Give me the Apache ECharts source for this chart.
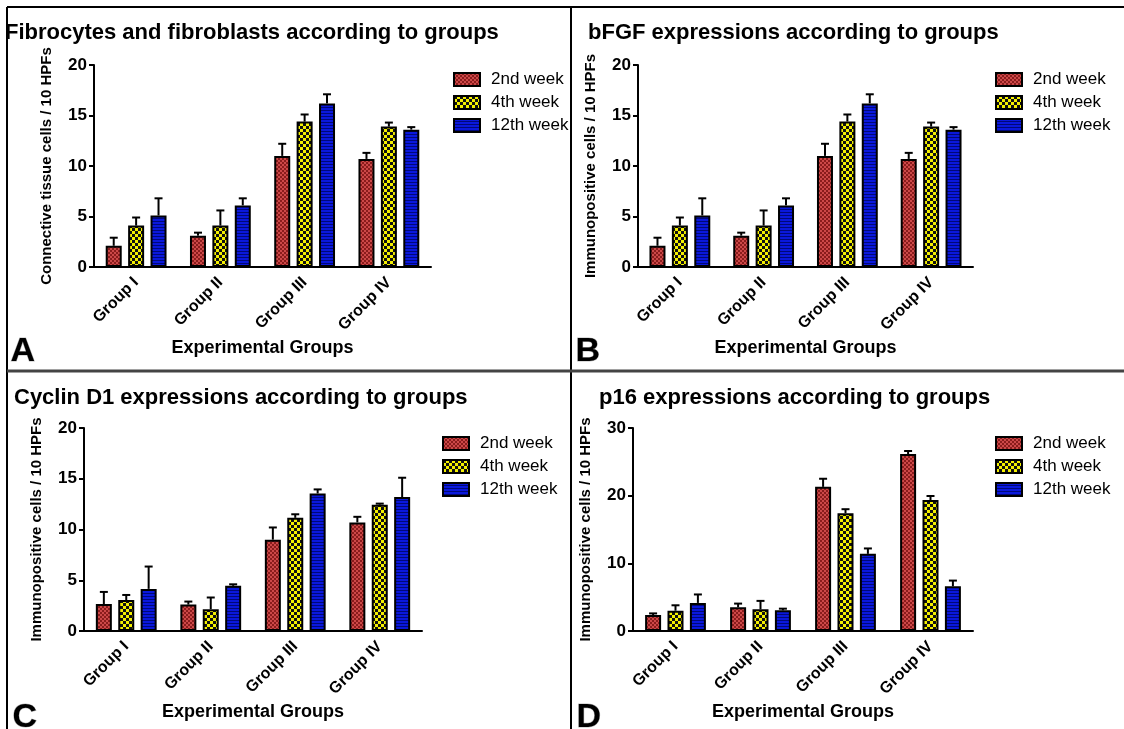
<!DOCTYPE html>
<html>
<head>
<meta charset="utf-8">
<script src="https://cdn.jsdelivr.net/npm/echarts@6/dist/echarts.min.js"></script>
<style>
  html, body { margin: 0; padding: 0; background: #fff; }
  #chart { width: 1124px; height: 729px; }
</style>
</head>
<body>
<div id="chart"></div>
<script>
const groups = ['Group I', 'Group II', 'Group III', 'Group IV']
const weeks = ['2nd week', '4th week', '12th week']
const yTicks = [[0, 20, 5], [0, 20, 5], [0, 20, 5], [0, 30, 10]] // min, max, interval

// A: fibrocytes and fibroblasts (mean, SEM)
const fibro2 = [2.1, 3.1, 11.0, 10.7]
const fibro2Sem = [0.8, 0.3, 1.2, 0.6]
const fibro4 = [4.1, 4.1, 14.4, 13.9]
const fibro4Sem = [0.8, 1.5, 0.7, 0.4]
const fibro12 = [5.1, 6.1, 16.2, 13.6]
const fibro12Sem = [1.7, 0.7, 0.9, 0.25]

// B: bFGF
const bfgf2 = [2.1, 3.1, 11.0, 10.7]
const bfgf2Sem = [0.8, 0.3, 1.2, 0.6]
const bfgf4 = [4.1, 4.1, 14.4, 13.9]
const bfgf4Sem = [0.8, 1.5, 0.7, 0.4]
const bfgf12 = [5.1, 6.1, 16.2, 13.6]
const bfgf12Sem = [1.7, 0.7, 0.9, 0.25]

// C: cyclin D1
const cyc2 = [2.65, 2.6, 9.0, 10.7]
const cyc2Sem = [1.2, 0.3, 1.2, 0.55]
const cyc4 = [3.05, 2.15, 11.15, 12.45]
const cyc4Sem = [0.5, 1.15, 0.35, 0.1]
const cyc12 = [4.15, 4.45, 13.55, 13.2]
const cyc12Sem = [2.2, 0.15, 0.4, 1.9]

// D: p16
const p16w2 = [2.35, 3.5, 21.3, 26.15]
const p16w2Sem = [0.25, 0.55, 1.2, 0.45]
const p16w4 = [3.0, 3.2, 17.4, 19.35]
const p16w4Sem = [0.8, 1.25, 0.6, 0.6]
const p16w12 = [4.15, 3.05, 11.4, 6.6]
const p16w12Sem = [1.25, 0.25, 0.8, 0.85]

const panels = [
  { title: 'Fibrocytes and fibroblasts according to groups', yName: 'Connective tissue cells / 10 HPFs',
    means: [fibro2, fibro4, fibro12], sems: [fibro2Sem, fibro4Sem, fibro12Sem] },
  { title: 'bFGF expressions according to groups', yName: 'Immunopositive cells / 10 HPFs',
    means: [bfgf2, bfgf4, bfgf12], sems: [bfgf2Sem, bfgf4Sem, bfgf12Sem] },
  { title: 'Cyclin D1 expressions according to groups', yName: 'Immunopositive cells / 10 HPFs',
    means: [cyc2, cyc4, cyc12], sems: [cyc2Sem, cyc4Sem, cyc12Sem] },
  { title: 'p16 expressions according to groups', yName: 'Immunopositive cells / 10 HPFs',
    means: [p16w2, p16w4, p16w12], sems: [p16w2Sem, p16w4Sem, p16w12Sem] },
]

// layout of the four panels
const grids = [
  { left: 94, right: 693, top: 65, bottom: 462 },
  { left: 638, right: 151, top: 65, bottom: 462 },
  { left: 84, right: 702, top: 428, bottom: 98 },
  { left: 633, right: 151, top: 428, bottom: 98 },
]
const titlePos = [[5, 22], [588, 22], [14, 387], [599, 387]]
const legendPos = [[453, 71], [995, 71], [442, 435], [995, 435]]

function makePattern(w, h, draw) {
  const c = document.createElement('canvas')
  c.width = w; c.height = h
  draw(c.getContext('2d'))
  return { image: c, repeat: 'repeat' }
}
const redFill = makePattern(4, 4, g => {
  g.fillStyle = '#cc4848'; g.fillRect(0, 0, 4, 4)
  g.fillStyle = '#8a1c1c'; g.fillRect(0, 0, 2, 2); g.fillRect(2, 2, 2, 2)
})
const yellowFill = makePattern(6, 6, g => {
  g.fillStyle = '#f4f000'; g.fillRect(0, 0, 6, 6)
  g.fillStyle = '#111'; g.fillRect(0, 0, 3, 3); g.fillRect(3, 3, 3, 3)
})
const blueFill = makePattern(3, 3, g => {
  g.fillStyle = '#0a18dc'; g.fillRect(0, 0, 3, 3)
  g.fillStyle = '#00087a'; g.fillRect(0, 2, 3, 1)
})
const fills = [redFill, yellowFill, blueFill]

const BAR_W = 16
const GAP = 0.4
const offsets = [-(BAR_W * (1 + GAP)), 0, BAR_W * (1 + GAP)]

const font = 'Liberation Sans, Arial, sans-serif'
const series = []
panels.forEach((p, pi) => {
  weeks.forEach((w, wi) => {
    series.push({
      name: w,
      type: 'bar',
      xAxisIndex: pi,
      yAxisIndex: pi,
      data: p.means[wi],
      barWidth: BAR_W,
      barGap: (GAP * 100) + '%',
      itemStyle: { color: fills[wi], borderColor: '#000', borderWidth: 2 },
      emphasis: { disabled: true },
      z: 2,
    })
    series.push({
      type: 'custom',
      xAxisIndex: pi,
      yAxisIndex: pi,
      data: p.means[wi].map((v, i) => [i, v, p.sems[wi][i]]),
      encode: { x: 0, y: 1 },
      z: 3,
      silent: true,
      renderItem: (params, api) => {
        const i = api.value(0)
        const v = api.value(1)
        const e = api.value(2)
        const base = api.coord([i, v])
        const top = api.coord([i, v + e])
        const x = base[0] + offsets[wi]
        const st = { stroke: '#000', lineWidth: 2 }
        return {
          type: 'group',
          children: [
            { type: 'line', shape: { x1: x, y1: base[1], x2: x, y2: top[1] }, style: st },
            { type: 'line', shape: { x1: x - 4, y1: top[1], x2: x + 4, y2: top[1] }, style: st },
          ],
        }
      },
    })
  })
})

const line = (x1, y1, x2, y2, w, c) => ({
  type: 'line', silent: true, z: 100,
  shape: { x1, y1, x2, y2 }, style: { stroke: c || '#000', lineWidth: w },
})
const letter = (txt, x, y) => ({
  type: 'text', left: x, top: y, z: 101, silent: true,
  style: {
    text: txt, font: 'bold 34px ' + font, fill: '#000',
    stroke: '#bbb', lineWidth: 1,
    textShadowColor: '#999', textShadowOffsetX: 2, textShadowOffsetY: 1,
  },
})

const chart = echarts.init(document.getElementById('chart'), null, { renderer: 'canvas' })
chart.setOption({
  animation: false,
  textStyle: { fontFamily: font, color: '#000' },
  title: panels.map((p, i) => ({
    text: p.title, left: titlePos[i][0], top: titlePos[i][1], padding: 0,
    textStyle: { fontSize: 22, fontWeight: 'bold', color: '#000', fontFamily: font },
  })),
  legend: legendPos.map(pos => ({
    data: weeks, orient: 'vertical', left: pos[0], top: pos[1], padding: 0,
    itemWidth: 26, itemHeight: 13, itemGap: 6, selectedMode: false, icon: 'rect',
    textStyle: { fontSize: 17, color: '#000', fontFamily: font, padding: [0, 0, 0, 6] },
  })),
  grid: grids,
  xAxis: grids.map((g, i) => ({
    type: 'category', gridIndex: i, data: groups,
    axisLine: { lineStyle: { color: '#000', width: 2 } },
    axisTick: { alignWithLabel: true, length: 6, lineStyle: { color: '#000', width: 2 } },
    axisLabel: { rotate: 45, fontSize: 16, fontWeight: 'bold', color: '#000', margin: 13, fontFamily: font },
    name: 'Experimental Groups', nameLocation: 'middle', nameGap: 72,
    nameTextStyle: { fontSize: 18, fontWeight: 'bold', color: '#000', fontFamily: font },
  })),
  yAxis: grids.map((g, i) => ({
    type: 'value', gridIndex: i, min: yTicks[i][0], max: yTicks[i][1], interval: yTicks[i][2],
    axisLine: { show: true, lineStyle: { color: '#000', width: 2 } },
    axisTick: { show: true, length: 5, lineStyle: { color: '#000', width: 2 } },
    axisLabel: { fontSize: 17, fontWeight: 'bold', color: '#000', margin: 7, fontFamily: font },
    splitLine: { show: false },
    name: panels[i].yName, nameLocation: 'middle', nameGap: 40,
    nameTextStyle: { fontSize: 15, fontWeight: 'bold', color: '#000', fontFamily: font },
  })),
  series,
  graphic: [
    line(7, 7, 1124, 7, 2),
    line(7, 7, 7, 729, 2),
    line(571, 7, 571, 729, 2),
    line(7, 371, 1124, 371, 3, '#444'),
    letter('A', 10, 334),
    letter('B', 575, 334),
    letter('C', 12, 700),
    letter('D', 576, 700),
  ],
})
</script>
</body>
</html>
